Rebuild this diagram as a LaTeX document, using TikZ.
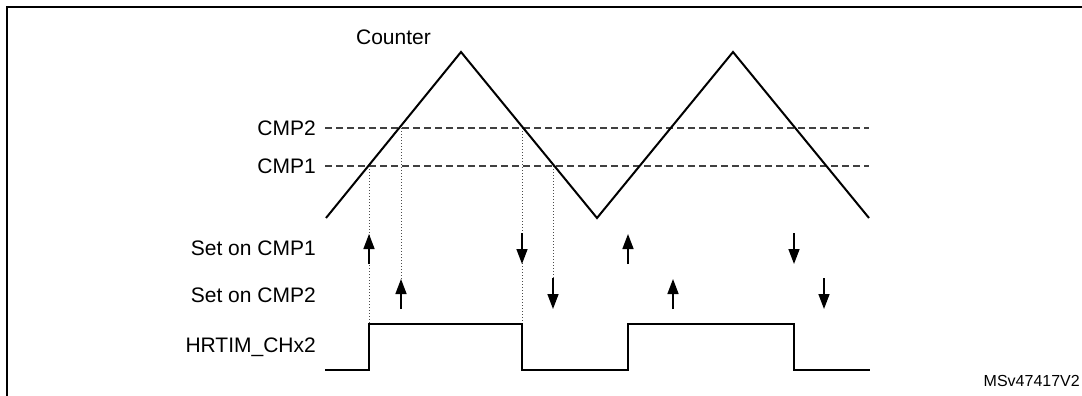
\documentclass[tikz,border=0pt]{standalone}
\usepackage{fontspec}
\setmainfont{Liberation Sans}
\usetikzlibrary{arrows.meta}
\begin{document}
\begin{tikzpicture}[x=1pt,y=-1pt,
  lbl/.style={anchor=east,inner sep=0pt,font=\fontsize{21}{24}\selectfont},
  wave/.style={line width=2pt,line join=miter},
  cmpline/.style={line width=1.1pt,dash pattern=on 7pt off 4pt,black!75},
  guide/.style={line width=0.9pt,dash pattern=on 1pt off 2pt,black!70},
  evt/.style={line width=1.5pt,-{Triangle[length=15pt,width=11pt]}},
  frameline/.style={line width=2.5pt}]
\useasboundingbox (0,0) rectangle (1082,396);
% frame
\coordinate (fa) at (7,396);
\coordinate (fb) at (7,7);
\coordinate (fc) at (1082,7);
\draw[frameline] (fa) -- (fb) -- (fc);
% labels
\node[inner sep=0pt,font=\fontsize{21}{24}\selectfont] (counter) at (393.5,37) {Counter};
\node[lbl] (lc2) at (316,128) {CMP2};
\node[lbl] (lc1) at (316,166) {CMP1};
\node[lbl] (ls1) at (316,248) {Set on CMP1};
\node[lbl] (ls2) at (316,295) {Set on CMP2};
\node[lbl] (lh) at (316,347) {HRTIM\_CHx2};
\node[anchor=east,inner sep=0pt,font=\fontsize{16}{19}\selectfont] (ref) at (1080,381) {MSv47417V2};
% compare levels
\coordinate (c2a) at (325,128); \coordinate (c2b) at (869,128);
\coordinate (c1a) at (325,166); \coordinate (c1b) at (869,166);
\draw[cmpline] (c2a) -- (c2b);
\draw[cmpline] (c1a) -- (c1b);
% guides
\coordinate (g1a) at (369,166); \coordinate (g1b) at (369,324);
\coordinate (g2a) at (401,128); \coordinate (g2b) at (401,280);
\coordinate (g3a) at (522,128); \coordinate (g3b) at (522,324);
\coordinate (g4a) at (553,166); \coordinate (g4b) at (553,278);
\draw[guide] (g1a) -- (g1b);
\draw[guide] (g2a) -- (g2b);
\draw[guide] (g3a) -- (g3b);
\draw[guide] (g4a) -- (g4b);
% counter triangle
\coordinate (t0) at (326,218);
\coordinate (t1) at (461,52);
\coordinate (t2) at (597,218);
\coordinate (t3) at (733,52);
\coordinate (t4) at (869,218);
\draw[wave] (t0) -- (t1) -- (t2) -- (t3) -- (t4);
% events
\coordinate (a1s) at (369,264); \coordinate (a1e) at (369,234);
\coordinate (a2s) at (401,309); \coordinate (a2e) at (401,279);
\coordinate (a3s) at (522,233); \coordinate (a3e) at (522,264);
\coordinate (a4s) at (553,278); \coordinate (a4e) at (553,309);
\coordinate (a5s) at (628,264); \coordinate (a5e) at (628,234);
\coordinate (a6s) at (673,309); \coordinate (a6e) at (673,279);
\coordinate (a7s) at (794,233); \coordinate (a7e) at (794,264);
\coordinate (a8s) at (824,278); \coordinate (a8e) at (824,309);
\foreach \i in {1,...,8} {\draw[evt] (a\i s) -- (a\i e);}
% output waveform
\coordinate (h0) at (325,370);
\coordinate (h1) at (369,370); \coordinate (h2) at (369,324);
\coordinate (h3) at (522,324); \coordinate (h4) at (522,370);
\coordinate (h5) at (628,370); \coordinate (h6) at (628,324);
\coordinate (h7) at (794,324); \coordinate (h8) at (794,370);
\coordinate (h9) at (870,370);
\draw[wave] (h0) -- (h1) -- (h2) -- (h3) -- (h4) -- (h5) -- (h6) -- (h7) -- (h8) -- (h9);
\end{tikzpicture}
\end{document}
